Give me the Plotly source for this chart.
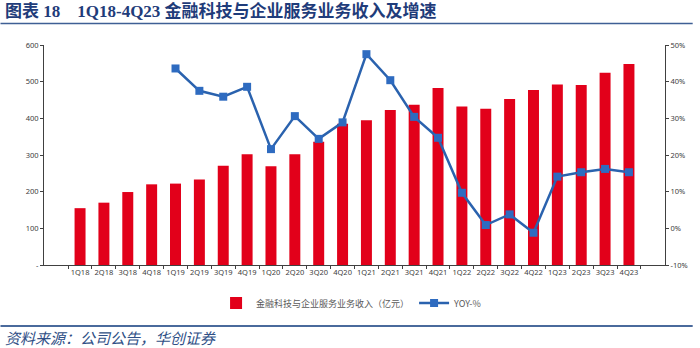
import plotly.graph_objects as go

quarters = ["1Q18","2Q18","3Q18","4Q18","1Q19","2Q19","3Q19","4Q19","1Q20","2Q20","3Q20","4Q20",
            "1Q21","2Q21","3Q21","4Q21","1Q22","2Q22","3Q22","4Q22","1Q23","2Q23","3Q23","4Q23"]
revenue = [155, 170, 199, 220, 222, 233, 271, 302, 269, 302, 336, 385,
           395, 423, 437, 483, 432, 426, 453, 477, 492, 491, 524, 548]
yoy = [None, None, None, None, 43.6, 37.5, 35.9, 38.6, 21.6, 30.6, 24.4, 28.9,
       47.5, 40.4, 30.4, 24.7, 9.7, 0.9, 3.8, -1.2, 14.1, 15.3, 16.2, 15.3]

left_ticks = [0, 100, 200, 300, 400, 500, 600]
left_text = ["-", "100", "200", "300", "400", "500", "600"]
right_ticks = [-10, 0, 10, 20, 30, 40, 50]
right_text = ["-10%", "0%", "10%", "20%", "30%", "40%", "50%"]

bar_name = "金融科技与企业服务业务收入（亿元）"
line_name = "YOY-%"
title_text = "图表 18　1Q18-4Q23 金融科技与企业服务业务收入及增速"
source_text = "资料来源：公司公告，华创证券"

W, H = 700, 348
L, R, T, B = 44, 28, 45, 83
pw, ph = W - L - R, H - T - B

def px(x):
    return (x - L) / pw

def py(y):
    return (H - B - y) / ph

tick_font = dict(family="Noto Sans, Liberation Sans, sans-serif", size=7.5, color="#404040")

fig = go.Figure()
fig.add_trace(go.Bar(x=quarters, y=revenue, name=bar_name, marker_color="#E2001A",
                     marker_line_width=0, yaxis="y"))
fig.add_trace(go.Scatter(x=quarters, y=yoy, name=line_name, yaxis="y2", mode="lines+markers",
                         line=dict(color="#2A62AE", width=2.5),
                         marker=dict(symbol="square", size=8, color="#2E6BC0",
                                     line=dict(width=0))))

fig.update_layout(
    width=W, height=H,
    margin=dict(l=L, r=R, t=T, b=B),
    paper_bgcolor="white", plot_bgcolor="white",
    bargap=0.54,
    showlegend=True,
    legend=dict(orientation="h", x=px(218), y=py(303), xanchor="left", yanchor="middle",
                font=dict(family="Noto Sans CJK SC, sans-serif", size=9, color="#595959"),
                bgcolor="rgba(0,0,0,0)"),
    xaxis=dict(type="category", showgrid=False, showline=True, linecolor="#404040", linewidth=1,
               ticks="outside", ticklen=3, tickcolor="#404040", tickson="boundaries",
               tickangle=0, tickfont=tick_font),
    yaxis=dict(range=[0, 600], tickvals=left_ticks, ticktext=left_text, showgrid=False,
               zeroline=False, showline=True, linecolor="#404040", linewidth=1,
               ticks="outside", ticklen=3, tickcolor="#404040", tickfont=tick_font),
    yaxis2=dict(range=[-10, 50], tickvals=right_ticks, ticktext=right_text, overlaying="y",
                side="right", showgrid=False, zeroline=False, showline=True,
                linecolor="#404040", linewidth=1, ticks="outside", ticklen=3,
                tickcolor="#404040", tickfont=tick_font),
)

# title and separators
fig.add_annotation(text="<b>" + title_text + "</b>", xref="paper", yref="paper",
                   x=px(3), y=py(11), xanchor="left", yanchor="middle", showarrow=False,
                   font=dict(family="Liberation Serif, Noto Sans CJK SC, serif", size=17,
                             color="#1F3C7A"))
fig.add_shape(type="line", xref="paper", yref="paper", x0=px(0), x1=px(W), y0=py(23.5),
              y1=py(23.5), line=dict(color="#3F5F95", width=1.5))
fig.add_shape(type="line", xref="paper", yref="paper", x0=px(0), x1=px(W), y0=py(326),
              y1=py(326), line=dict(color="#4A6A9C", width=2))
fig.add_annotation(text="<i>" + source_text + "</i>", xref="paper", yref="paper",
                   x=px(3), y=py(337.5), xanchor="left", yanchor="middle", showarrow=False,
                   font=dict(family="Noto Sans CJK SC, sans-serif", size=15, color="#2F4F86"))

fig.write_html("out.html")
